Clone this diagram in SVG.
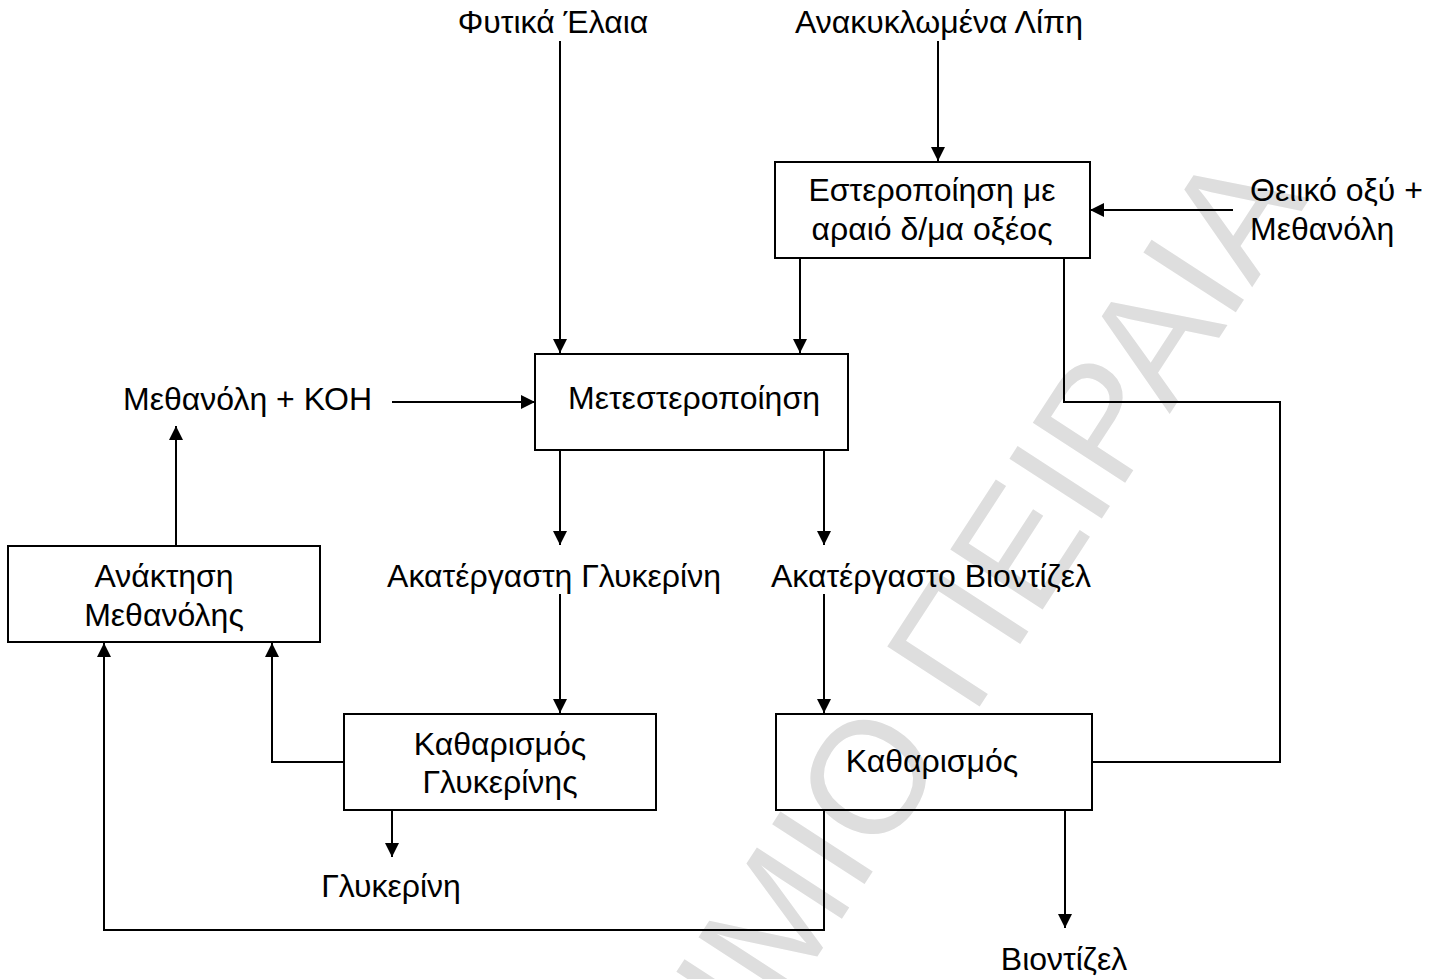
<svg xmlns="http://www.w3.org/2000/svg" width="1441" height="979" viewBox="0 0 1441 979">
<style>
  .t { font-family: "Liberation Sans", Arial, sans-serif; font-size: 32px; fill: #000; }
  .c { text-anchor: middle; }
  .box { fill: none; stroke: #000; stroke-width: 2; }
  .ln { fill: none; stroke: #000; stroke-width: 2; }
  .wm { font-family: "Liberation Sans", Arial, sans-serif; font-size: 160px; fill: #dedede; }
</style>
<defs>
  <marker id="ah" viewBox="0 0 14 14" refX="14" refY="7" markerWidth="14" markerHeight="14" markerUnits="userSpaceOnUse" orient="auto">
    <path d="M0,0 L14,7 L0,14 z" fill="#000"/>
  </marker>
</defs>
<rect width="1441" height="979" fill="#fff"/>
<g id="watermark">
  <text class="wm" text-anchor="end" transform="translate(1310,198) rotate(-57)">ΠΑΝΕΠΙΣΤΗΜΙΟ ΠΕΙΡΑΙΑ</text>
</g>
<g id="connectors">
  <line class="ln" x1="560" y1="41" x2="560" y2="353" marker-end="url(#ah)"/>
  <line class="ln" x1="938" y1="41" x2="938" y2="161" marker-end="url(#ah)"/>
  <line class="ln" x1="1233" y1="210" x2="1090" y2="210" marker-end="url(#ah)"/>
  <line class="ln" x1="800" y1="258" x2="800" y2="353" marker-end="url(#ah)"/>
  <line class="ln" x1="392" y1="402" x2="535" y2="402" marker-end="url(#ah)"/>
  <line class="ln" x1="560" y1="450" x2="560" y2="545" marker-end="url(#ah)"/>
  <line class="ln" x1="824" y1="450" x2="824" y2="545" marker-end="url(#ah)"/>
  <line class="ln" x1="560" y1="594" x2="560" y2="713" marker-end="url(#ah)"/>
  <line class="ln" x1="824" y1="594" x2="824" y2="713" marker-end="url(#ah)"/>
  <line class="ln" x1="176" y1="546" x2="176" y2="426" marker-end="url(#ah)"/>
  <path class="ln" d="M343,762 H272 V643" marker-end="url(#ah)"/>
  <path class="ln" d="M824,810 V930 H104 V643" marker-end="url(#ah)"/>
  <line class="ln" x1="392" y1="810" x2="392" y2="857" marker-end="url(#ah)"/>
  <line class="ln" x1="1065" y1="810" x2="1065" y2="928" marker-end="url(#ah)"/>
  <path class="ln" d="M1064,258 V402 H1280 V762 H1092"/>
</g>
<g id="in-fytika">
  <text class="t c" x="553" y="33">Φυτικά Έλαια</text>
</g>
<g id="in-anakyklomena">
  <text class="t c" x="939" y="33">Ανακυκλωμένα Λίπη</text>
</g>
<g id="esteropoiisi">
  <rect class="box" x="775" y="162" width="315" height="96"/>
  <text class="t c" x="932" y="201">Εστεροποίηση με</text>
  <text class="t c" x="932" y="240">αραιό δ/μα οξέος</text>
</g>
<g id="in-theiiko">
  <text class="t" x="1250" y="201">Θειικό οξύ +</text>
  <text class="t" x="1250" y="240">Μεθανόλη</text>
</g>
<g id="metesteropoiisi">
  <rect class="box" x="535" y="354" width="313" height="96"/>
  <text class="t c" x="694" y="409">Μετεστεροποίηση</text>
</g>
<g id="in-methanoli-koh">
  <text class="t" x="123" y="410">Μεθανόλη + ΚΟΗ</text>
</g>
<g id="akat-glykerini">
  <text class="t c" x="554" y="587">Ακατέργαστη Γλυκερίνη</text>
</g>
<g id="akat-biodiesel">
  <text class="t c" x="931" y="587">Ακατέργαστο Βιοντίζελ</text>
</g>
<g id="anaktisi">
  <rect class="box" x="8" y="546" width="312" height="96"/>
  <text class="t c" x="164" y="587">Ανάκτηση</text>
  <text class="t c" x="164" y="626">Μεθανόλης</text>
</g>
<g id="kath-glykerinis">
  <rect class="box" x="344" y="714" width="312" height="96"/>
  <text class="t c" x="500" y="755">Καθαρισμός</text>
  <text class="t c" x="500" y="793">Γλυκερίνης</text>
</g>
<g id="katharismos">
  <rect class="box" x="776" y="714" width="316" height="96"/>
  <text class="t c" x="932" y="772">Καθαρισμός</text>
</g>
<g id="out-glykerini">
  <text class="t c" x="391" y="897">Γλυκερίνη</text>
</g>
<g id="out-biodiesel">
  <text class="t c" x="1064" y="970">Βιοντίζελ</text>
</g>
</svg>
